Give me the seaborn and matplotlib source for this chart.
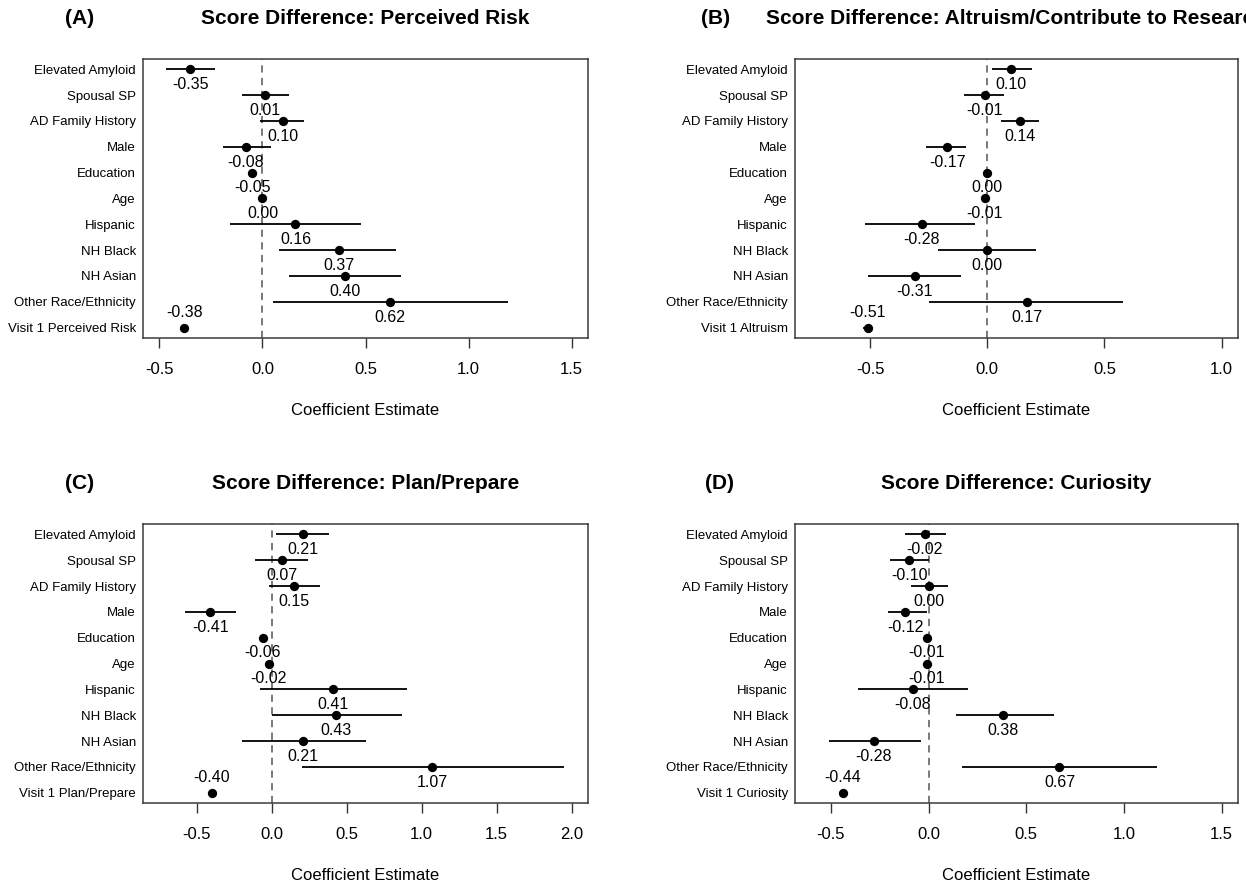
import numpy as np
import pandas as pd
import matplotlib
matplotlib.use("Agg")
import matplotlib.pyplot as plt
import seaborn as sns

# -----------------------------
# DATA
# -----------------------------
row_labels = ["Elevated Amyloid", "Spousal SP", "AD Family History", "Male",
              "Education", "Age", "Hispanic", "NH Black", "NH Asian",
              "Other Race/Ethnicity"]

visit_labels = ["Visit 1 Perceived Risk", "Visit 1 Altruism",
                "Visit 1 Plan/Prepare", "Visit 1 Curiosity"]

titles = ["Score Difference: Perceived Risk",
          "Score Difference: Altruism/Contribute to Research",
          "Score Difference: Plan/Prepare",
          "Score Difference: Curiosity"]
panel_tags = ["(A)", "(B)", "(C)", "(D)"]

est_a = [-0.35, 0.01, 0.10, -0.08, -0.05, 0.00, 0.16, 0.37, 0.40, 0.62, -0.38]
lo_a = [-0.47, -0.10, -0.01, -0.19, -0.06, -0.01, -0.16, 0.08, 0.13, 0.05, -0.40]
hi_a = [-0.23, 0.13, 0.20, 0.04, -0.04, 0.01, 0.48, 0.65, 0.67, 1.19, -0.36]

est_b = [0.10, -0.01, 0.14, -0.17, 0.00, -0.01, -0.28, 0.00, -0.31, 0.17, -0.51]
lo_b = [0.02, -0.10, 0.06, -0.26, -0.01, -0.02, -0.52, -0.21, -0.51, -0.25, -0.53]
hi_b = [0.19, 0.07, 0.22, -0.09, 0.01, 0.00, -0.05, 0.21, -0.11, 0.58, -0.49]

est_c = [0.21, 0.07, 0.15, -0.41, -0.06, -0.02, 0.41, 0.43, 0.21, 1.07, -0.40]
lo_c = [0.03, -0.11, -0.02, -0.58, -0.08, -0.03, -0.08, 0.00, -0.20, 0.20, -0.42]
hi_c = [0.38, 0.24, 0.32, -0.24, -0.04, -0.01, 0.90, 0.87, 0.63, 1.95, -0.38]

est_d = [-0.02, -0.10, 0.00, -0.12, -0.01, -0.01, -0.08, 0.38, -0.28, 0.67, -0.44]
lo_d = [-0.12, -0.20, -0.09, -0.21, -0.02, -0.02, -0.36, 0.14, -0.51, 0.17, -0.46]
hi_d = [0.09, 0.00, 0.10, -0.01, 0.00, 0.00, 0.20, 0.64, -0.04, 1.17, -0.42]

x_ranges = [(-0.5, 1.5), (-0.75, 1.0), (-0.75, 2.0), (-0.6, 1.5)]
x_ticks = [[-0.5, 0.0, 0.5, 1.0, 1.5],
           [-0.5, 0.0, 0.5, 1.0],
           [-0.5, 0.0, 0.5, 1.0, 1.5, 2.0],
           [-0.5, 0.0, 0.5, 1.0, 1.5]]

panels = [(est_a, lo_a, hi_a), (est_b, lo_b, hi_b),
          (est_c, lo_c, hi_c), (est_d, lo_d, hi_d)]

# -----------------------------
# STYLE
# -----------------------------
sns.set_style("white")
plt.rcParams['font.family'] = ['Liberation Sans', 'DejaVu Sans']
plt.rcParams['text.color'] = 'black'
plt.rcParams['xtick.color'] = 'black'
plt.rcParams['ytick.color'] = 'black'
plt.rcParams['axes.labelcolor'] = 'black'

W, H = 1246, 889
fig = plt.figure(figsize=(W / 100, H / 100), dpi=100)

# axes boxes in pixels: left, top, right, bottom
boxes = [(143, 59, 588, 338), (795, 59, 1238, 338),
         (143, 524, 588, 803), (795, 524, 1238, 803)]
tag_x = [80, 716, 80, 720]

for i, (est, lo, hi) in enumerate(panels):
    l, t, r, b = boxes[i]
    ax = fig.add_axes([l / W, 1 - b / H, (r - l) / W, (b - t) / H])

    labels = row_labels + [visit_labels[i]]
    df = pd.DataFrame({"label": labels, "est": est, "lo": lo, "hi": hi,
                       "pos": np.arange(len(labels))})

    ax.axvline(0, color="#6e6e6e", lw=1.3, ls=(0, (4, 3)), zorder=1)
    ax.hlines(df["pos"], df["lo"], df["hi"], color="black", lw=1.3, zorder=2)
    sns.scatterplot(data=df, x="est", y="pos", ax=ax, color="black",
                    s=45, edgecolor="black", linewidth=0, zorder=3, legend=False)

    # estimates printed under each point; the last row goes above
    last = len(df) - 1
    for k, row in df.iterrows():
        dy = 11 if k == last else -11
        ax.annotate(f"{row['est']:.2f}", (row["est"], row["pos"]),
                    xytext=(0, dy), textcoords="offset points",
                    ha="center", va="center", fontsize=11.5)

    lo_x, hi_x = x_ranges[i]
    pad = 0.04 * (hi_x - lo_x)
    ax.set_xlim(lo_x - pad, hi_x + pad)
    ax.set_ylim(len(labels) - 1 + 0.4, -0.4)
    ax.set_yticks(df["pos"])
    ax.set_yticklabels(labels, fontsize=9.5)
    ax.set_xticks(x_ticks[i])
    ax.set_xticklabels([f"{v:.1f}" for v in x_ticks[i]], fontsize=12)
    ax.tick_params(axis="y", length=0, pad=5)
    ax.tick_params(axis="x", direction="out", length=7, width=1,
                   color="#333333", pad=10, bottom=True)
    ax.set_xlabel("Coefficient Estimate", fontsize=12, labelpad=19)
    ax.set_ylabel("")
    for s in ax.spines.values():
        s.set_color("#3a3a3a")
        s.set_linewidth(1.1)

    cx = (l + r) / 2
    fig.text(cx / W, 1 - (t - 41) / H, titles[i], ha="center", va="center",
             fontsize=15, fontweight="bold")
    fig.text(tag_x[i] / W, 1 - (t - 41) / H, panel_tags[i], ha="center",
             va="center", fontsize=15, fontweight="bold")

fig.savefig("out.png", dpi=100)
